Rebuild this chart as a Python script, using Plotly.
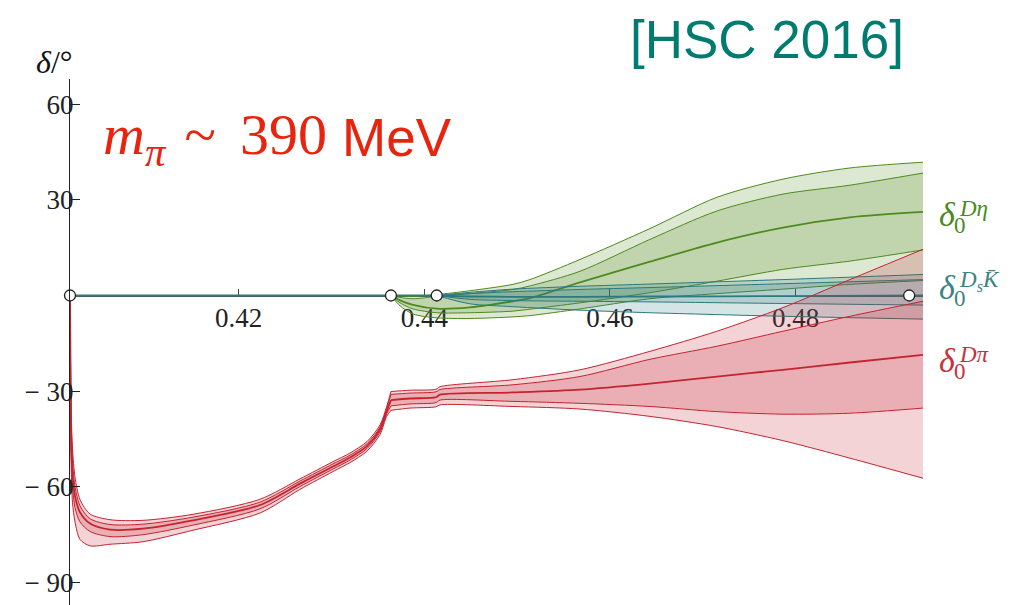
import plotly.graph_objects as go

# ---------------- data ----------------
thr_Dpi = 0.40184
thr_Deta = 0.43641
thr_DsK = 0.44134
thr_extra = 0.49223
x_min, x_max = 0.40184, 0.49372
y_min, y_max = -97.05, 67.9

# D pi  (below D eta threshold)
dpi_xa = [0.40184, 0.40190, 0.40197, 0.40211, 0.40238, 0.40292, 0.40400, 0.40615, 0.40970,
          0.41509, 0.42230, 0.42661, 0.43017, 0.43200, 0.43383, 0.43523, 0.43595, 0.43641]
dpi_a_ou = [0, -20, -37, -48, -57, -64, -68.5, -70.3, -70.5, -68.6, -63.9, -57.5, -52.1, -49.4, -45.8, -40.6, -34.8, -30.1]
dpi_a_iu = [0, -22.5, -41, -52, -60, -66, -70, -71.8, -71.7, -69.5, -64.8, -58.2, -52.8, -50.1, -46.5, -41.3, -35.5, -31.0]
dpi_a_c = [0, -25, -45, -56, -63, -68, -71.5, -73.4, -73.1, -70.5, -65.7, -59.0, -53.6, -50.8, -47.2, -42.0, -36.3, -32.8]
dpi_a_il = [0, -28, -49, -60, -66.5, -71, -74, -75.6, -75.0, -72.0, -66.9, -59.9, -54.4, -51.6, -48.0, -42.8, -37.1, -34.6]
dpi_a_ol = [0, -32, -54, -65, -71, -76.5, -78.5, -78.0, -77.2, -73.6, -68.2, -60.8, -55.2, -52.4, -48.8, -43.6, -37.9, -36.0]

# D pi  (above D eta threshold)
dpi_xb = [0.43641, 0.43846, 0.44126, 0.44169, 0.44955, 0.45677, 0.46431, 0.47152, 0.47863, 0.48585, 0.49372]
dpi_b_ou = [-30.1, -29.7, -29.4, -28.6, -26.4, -23.3, -17.5, -11.2, -3.8, 5.0, 14.5]
dpi_b_iu = [-31.0, -30.6, -30.2, -29.5, -28.0, -25.4, -20.0, -15.9, -11.2, -6.5, -1.8]
dpi_b_c = [-32.8, -32.3, -31.9, -31.1, -30.4, -29.5, -27.6, -25.4, -23.3, -21.0, -18.6]
dpi_b_il = [-34.6, -34.0, -33.6, -32.8, -33.2, -33.8, -34.8, -36.4, -37.2, -36.9, -35.3]
dpi_b_ol = [-36.0, -35.3, -34.9, -34.3, -34.8, -35.6, -37.9, -41.1, -45.5, -51.0, -57.3]

# D eta
deta_x = [0.43641, 0.43738, 0.43878, 0.44136, 0.44492, 0.44955, 0.45138, 0.45677, 0.46431,
          0.47152, 0.47863, 0.48585, 0.49372]
deta_ou = [0, -0.2, -0.3, 0.3, 1.5, 3.5, 5.0, 11.3, 21.0, 30.8, 36.5, 40.0, 41.8]
deta_iu = [0, -0.6, -1.0, -0.3, 0.6, 1.9, 3.0, 7.6, 17.6, 26.5, 31.8, 34.6, 38.4]
deta_c = [0, -1.5, -2.9, -4.1, -3.7, -1.8, -0.8, 4.1, 10.6, 16.6, 21.3, 24.5, 26.2]
deta_il = [0, -2.3, -4.2, -5.4, -5.4, -4.9, -4.3, -2.3, 0.9, 4.5, 8.2, 10.8, 14.3]
deta_ol = [0, -3.2, -5.8, -7.0, -7.2, -6.7, -6.3, -4.2, -1.0, 0.6, 2.0, 3.5, 4.7]

# Ds Kbar
dsk_x = [0.44134, 0.44492, 0.44955, 0.45677, 0.46431, 0.47863, 0.49372]
dsk_ou = [0, 1.0, 2.0, 2.9, 3.6, 5.0, 6.6]
dsk_iu = [0, 0.6, 1.2, 1.9, 2.5, 3.7, 5.0]
dsk_c = [0, -0.3, -0.4, -0.4, -0.3, -0.2, 0.0]
dsk_il = [0, -1.2, -1.6, -1.8, -2.0, -2.5, -3.0]
dsk_ol = [0, -2.6, -3.5, -4.6, -5.4, -6.5, -7.4]

zero_x = [thr_Dpi, thr_DsK]
zero_y = [0, 0]
thr_x = [thr_Dpi, thr_Deta, thr_DsK, thr_extra]
thr_y = [0, 0, 0, 0]

x_ticks = [0.42, 0.44, 0.46, 0.48]
y_ticks = [-90, -60, -30, 30, 60]
y_ticktext = ["\u2212 90", "\u2212 60", "\u2212 30", "30", "60"]

RED = (196, 36, 48)
GREEN = (78, 138, 30)
TEAL = (44, 122, 126)

fig = go.Figure()


def band(x, ol, il, c, iu, ou, rgb, alpha=0.2, shape="spline"):
    col = "rgb(%d,%d,%d)" % rgb
    fc = "rgba(%d,%d,%d,%.2f)" % (rgb + (alpha,))
    common = dict(x=x, mode="lines", showlegend=False, hoverinfo="skip")
    ls = dict(color=col, width=1, shape=shape, smoothing=0.8)
    fig.add_trace(go.Scatter(y=ol, line=ls, **common))
    fig.add_trace(go.Scatter(y=ou, line=ls, fill="tonexty", fillcolor=fc, **common))
    fig.add_trace(go.Scatter(y=il, line=ls, **common))
    fig.add_trace(go.Scatter(y=iu, line=ls, fill="tonexty", fillcolor=fc, **common))
    fig.add_trace(go.Scatter(y=c, line=dict(color=col, width=1.8, shape=shape, smoothing=0.8), **common))


band(deta_x, deta_ol, deta_il, deta_c, deta_iu, deta_ou, GREEN)
band(dsk_x, dsk_ol, dsk_il, dsk_c, dsk_iu, dsk_ou, TEAL)
band(dpi_xa, dpi_a_ol, dpi_a_il, dpi_a_c, dpi_a_iu, dpi_a_ou, RED)
band(dpi_xb, dpi_b_ol, dpi_b_il, dpi_b_c, dpi_b_iu, dpi_b_ou, RED)

fig.add_trace(go.Scatter(x=zero_x, y=zero_y, mode="lines", line=dict(color="#2f7d6d", width=2),
                         showlegend=False, hoverinfo="skip"))
fig.add_trace(go.Scatter(x=thr_x, y=thr_y, mode="markers", cliponaxis=False,
                         marker=dict(size=11, color="white", line=dict(color="#222", width=1.3)),
                         showlegend=False, hoverinfo="skip"))

W, H = 1012, 605
L, R, T, B = 70, 89, 79, 0


def px(xp):
    return (xp - L) / (W - L - R)


def py(yp):
    return (H - B - yp) / (H - T - B)


serif = "Liberation Serif"
sans = "Liberation Sans"
ann = []


def add_text(text, xp, yp, size, color, family=serif, xanchor="center", yanchor="middle"):
    ann.append(dict(x=px(xp), y=py(yp), xref="paper", yref="paper", text=text,
                    xanchor=xanchor, yanchor=yanchor, showarrow=False,
                    font=dict(family=family, size=size, color=color)))


add_text("<i>δ</i>/°", 54, 42, 32, "#111", yanchor="top")
add_text("<i>m</i><sub><i>π</i></sub>\u00a0\u200a~\u00a0\u2006390", 101, 100, 58, "#e8230e",
         xanchor="left", yanchor="top")
add_text("MeV", 340, 137, 53, "#e8230e", family=sans, xanchor="left")
add_text("[HSC 2016]", 767, 8, 53, "#007b70", family=sans, yanchor="top")

labels = [("<i>Dη</i>", 214, "#4a8a22"), ("<i>D<sub>s</sub>K\u0304</i>", 287, "#3b8484"),
          ("<i>Dπ</i>", 360, "#c8303a")]
for sup, yc, colr in labels:
    add_text("<i>δ</i>", 947, yc, 34, colr)
    add_text("0", 960, yc + 11, 23, colr)
    add_text(sup, 957, yc - 6, 23, colr, xanchor="left")

fig.update_layout(
    width=W, height=H, margin=dict(l=L, r=R, t=T, b=B),
    paper_bgcolor="white", plot_bgcolor="white",
    showlegend=False, annotations=ann,
    xaxis=dict(range=[x_min, x_max], anchor="free", position=(0 - y_min) / (y_max - y_min),
               tickvals=x_ticks, ticktext=["%.2f" % v for v in x_ticks],
               ticks="inside", ticklen=7, tickcolor="#444", showline=True, linecolor="#555",
               linewidth=1, showgrid=False, zeroline=False, layer="below traces",
               tickfont=dict(family=serif, size=27, color="#222"), ticklabelstandoff=-2),
    yaxis=dict(range=[y_min, y_max], tickvals=y_ticks, ticktext=y_ticktext,
               ticks="inside", ticklen=10, tickcolor="#222", showline=True, linecolor="#222",
               linewidth=1.2, showgrid=False, zeroline=False, ticklabelstandoff=-10,
               tickfont=dict(family=serif, size=27, color="#222")),
)

fig.write_html("out.html")
